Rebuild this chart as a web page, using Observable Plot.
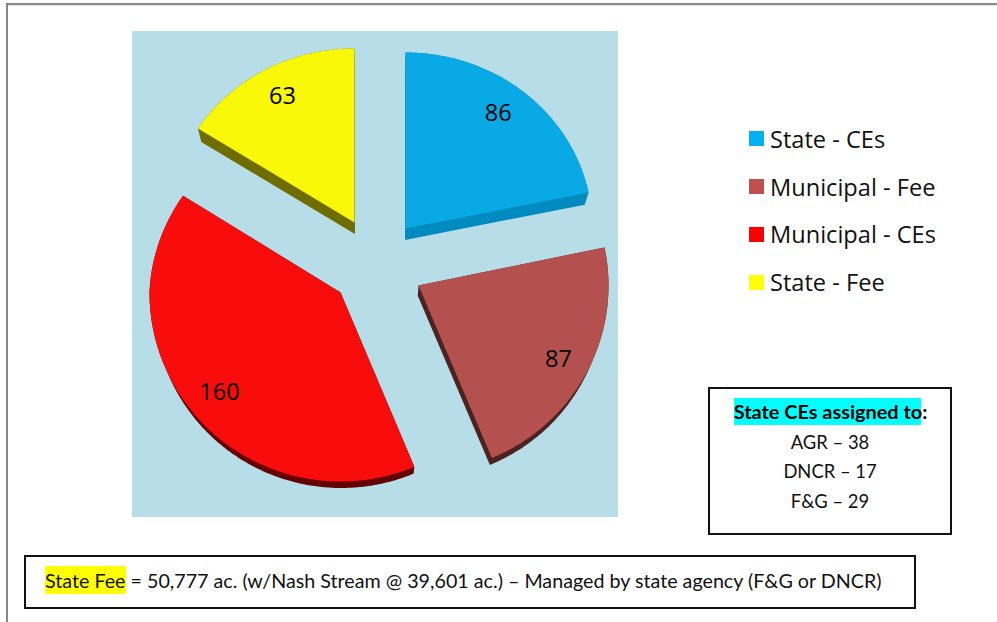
<!DOCTYPE html>
<html>
<head>
<meta charset="utf-8">
<script src="https://cdn.jsdelivr.net/npm/d3@7"></script>
<script src="https://cdn.jsdelivr.net/npm/@observablehq/plot@0.6"></script>
<style>
  html, body { margin: 0; padding: 0; background: #fff; }
  body { position: relative; width: 997px; height: 622px; overflow: hidden; }
  .abs { position: absolute; box-sizing: border-box; }
  #chart { left: 132px; top: 31px; width: 486px; height: 486px; }
  #chart svg { display: block; }
  .legend-text { font-family: "Open Sans", sans-serif; font-size: 23.6px; color: #111; line-height: 30px; white-space: nowrap; }
  .note { font-family: Lato, "Open Sans", sans-serif; color: #111; white-space: nowrap; }
</style>
</head>
<body>
<div class="abs" style="left:6px;top:3px;width:2px;height:619px;background:#888"></div>
<div class="abs" style="left:6px;top:3px;width:991px;height:2px;background:#888"></div>
<div class="abs" style="left:8px;top:5px;width:989px;height:1px;background:#e4e4e4"></div>
<div id="chart" class="abs"></div>
<div id="legend"></div>
<div class="abs" style="left:708px;top:387px;width:244px;height:148px;border:2px solid #111"></div>
<div class="abs note" style="left:734px;top:398px;height:27px;width:187px;background:#00ffff"></div>
<div class="abs note" id="boxTitle" style="left:708px;width:244px;top:398px;text-align:center;font-size:19.9px;font-weight:700;line-height:27px;color:#000;padding-left:1px">State CEs assigned to:</div>
<div id="assign"></div>
<div class="abs" style="left:24px;top:555px;width:892px;height:54px;border:2px solid #111"></div>
<div class="abs" style="left:45px;top:566px;width:81px;height:28px;background:#ffff00"></div>
<div class="abs note" id="foot" style="left:45px;top:566px;font-size:19.7px;line-height:29px"></div>
<script>
const categories = ["State - CEs", "Municipal - Fee", "Municipal - CEs", "State - Fee"];
const counts = [86, 87, 160, 63];
const assignLabels = ["AGR – 38", "DNCR – 17", "F&G – 29"];
const footText = "State Fee = 50,777 ac. (w/Nash Stream @ 39,601 ac.) – Managed by state agency (F&G or DNCR)";

// styles
const legendColors = ["#00B0F0", "#C0504D", "#FF0000", "#FFFF00"];
const topColors = ["#09A9E6", "#B4504D", "#F80C0C", "#F8F808"];
const sideColors = ["#008BC0", "#4A2320", "#650000", "#6F6C00"];

// tilted, exploded layout (page pixels)
const apexX = [405, 418, 340, 354];
const apexY = [228, 285, 292, 222];
const radiusXDown = [187, 190, 191, 186];
const radiusXUp = [187, 190, 184, 186];
const radiusUp = [176, 186, 179, 174];
const radiusDown = [176, 187, 189, 174];
const labelDx = [-4, 2, -1, 1];
const labelDy = [-3, 3, 0, -1];

const total = d3.sum(counts);
const toRad = v => (v / total) * 2 * Math.PI;
const at = (i, a, r = 1) => {
  const c = Math.cos(a);
  const rx = c > 0 ? radiusXDown[i] + (radiusXUp[i] - radiusXDown[i]) * c : radiusXDown[i];
  return [apexX[i] + r * rx * Math.sin(a),
          apexY[i] - r * (c > 0 ? radiusUp[i] : radiusDown[i]) * c];
};
// depth of the extruded edge shrinks towards the front of the picture
const extrude = ([x, y]) => [x + (379 - x) * 0.018, y + 15 - ((y - 50) / 430) * 8.5];

let cum = 0;
const tops = [], sides = [], labels = [];
categories.forEach((category, i) => {
  const a0 = toRad(cum);
  const a1 = toRad(cum + counts[i]);
  cum += counts[i];
  const outline = [[apexX[i], apexY[i]]];
  const steps = Math.ceil((a1 - a0) / 0.01);
  for (let s = 0; s <= steps; s++) outline.push(at(i, a0 + ((a1 - a0) * s) / steps));
  outline.forEach(([x, y]) => tops.push({ category, x, y, fill: topColors[i] }));
  const hull = d3.polygonHull(outline.concat(outline.map(extrude)));
  hull.forEach(([x, y]) => sides.push({ category, x, y, fill: sideColors[i] }));
  const [lx, ly] = at(i, (a0 + a1) / 2, 0.82);
  labels.push({ x: lx + labelDx[i], y: ly + labelDy[i], text: String(counts[i]) });
});

const chart = Plot.plot({
  width: 486, height: 486,
  margin: 0,
  style: { background: "#B7DDE8", overflow: "hidden" },
  x: { domain: [132, 618], range: [0, 486], axis: null },
  y: { domain: [31, 517], range: [0, 486], axis: null },
  marks: [
    Plot.line(sides, { x: "x", y: "y", z: "category", fill: "fill", stroke: "none", curve: "linear-closed" }),
    Plot.line(tops, { x: "x", y: "y", z: "category", fill: "fill", stroke: "none", curve: "linear-closed" }),
    Plot.text(labels, { x: "x", y: "y", text: "text", fontSize: 23.5, fontFamily: "Open Sans", fill: "#000", textAnchor: "middle" })
  ]
});
document.getElementById("chart").appendChild(chart);

const legendTops = [131, 179, 227, 275];
const legendTextTops = [124, 172, 219, 267];
const legend = document.getElementById("legend");
categories.forEach((c, i) => {
  const sw = document.createElement("div");
  sw.className = "abs";
  sw.style.cssText = `left:749px;top:${legendTops[i]}px;width:15px;height:15px;background:${legendColors[i]}`;
  legend.appendChild(sw);
  const t = document.createElement("div");
  t.className = "abs legend-text";
  t.style.left = "770px";
  t.style.top = legendTextTops[i] + "px";
  t.textContent = c;
  legend.appendChild(t);
});

const assignTops = [428, 457, 487];
const assign = document.getElementById("assign");
assignLabels.forEach((s, i) => {
  const t = document.createElement("div");
  t.className = "abs note";
  t.style.cssText = `left:708px;width:244px;top:${assignTops[i]}px;text-align:center;font-size:18.4px;line-height:28px`;
  t.textContent = s;
  assign.appendChild(t);
});
document.getElementById("foot").textContent = footText;
</script>
</body>
</html>
